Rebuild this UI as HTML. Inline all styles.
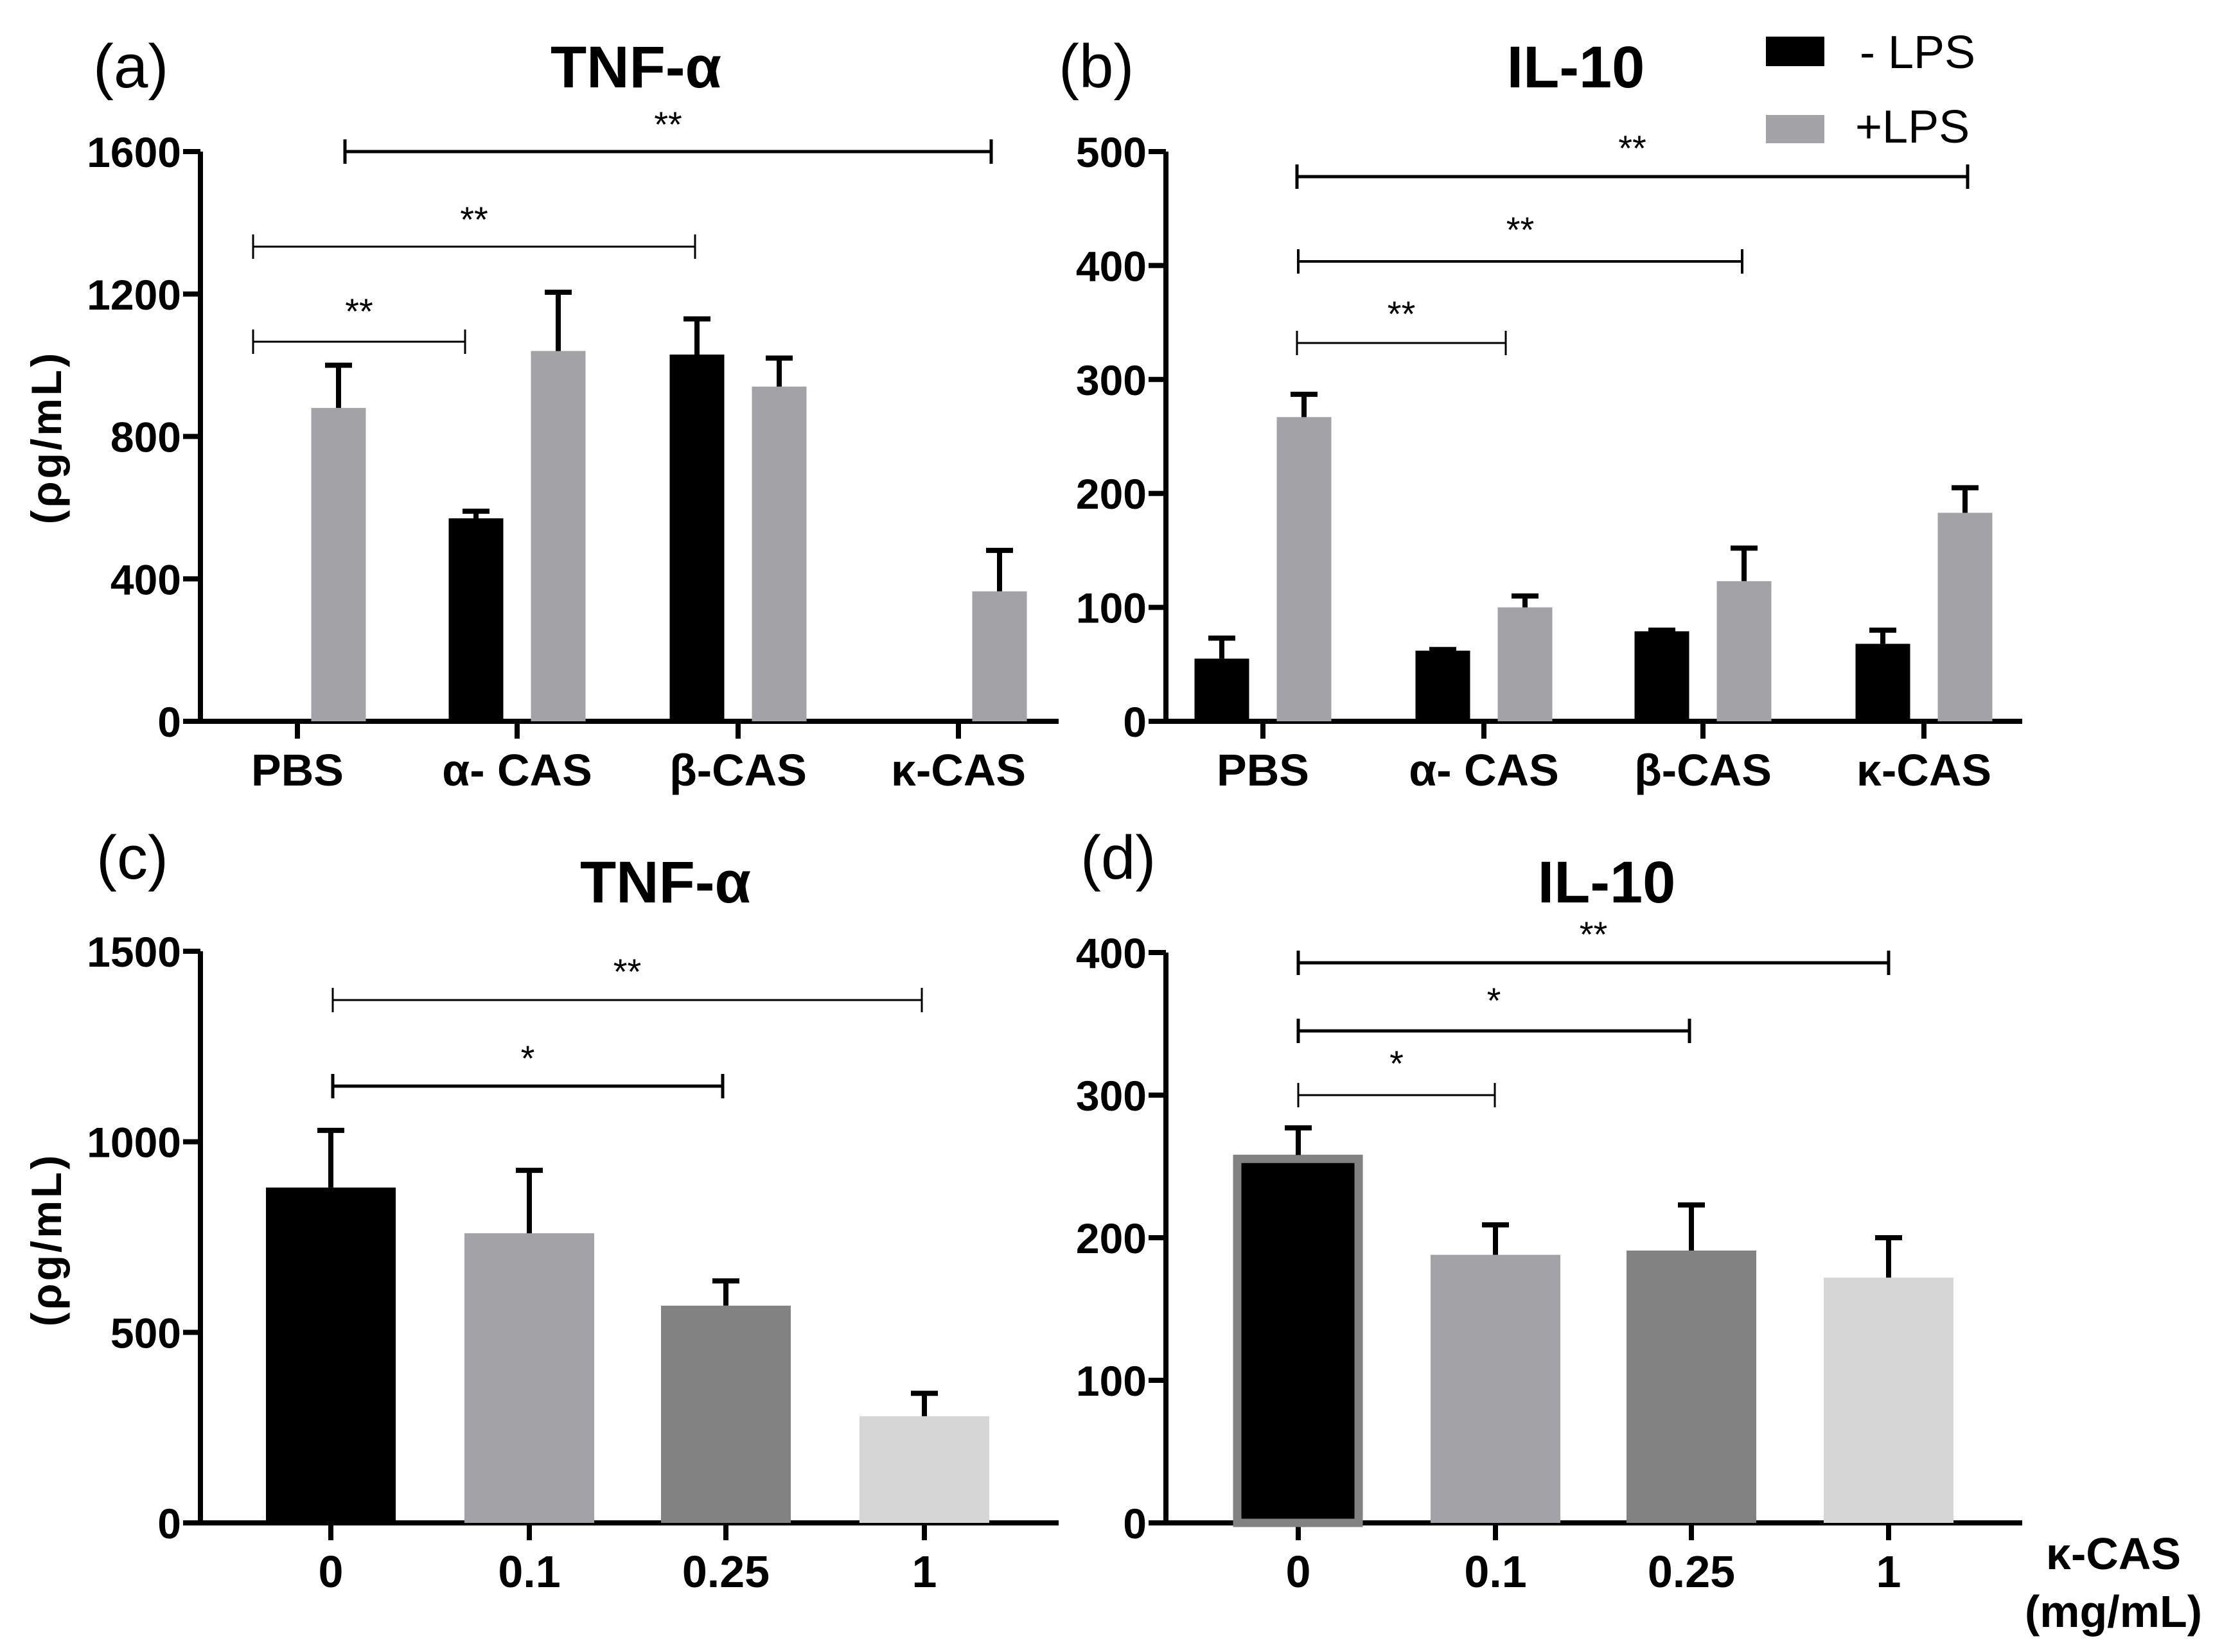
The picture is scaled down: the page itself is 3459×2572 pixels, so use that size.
<!DOCTYPE html>
<html><head><meta charset="utf-8"><style>
html,body{margin:0;padding:0;background:#fff;}
svg{display:block;font-family:"Liberation Sans",Arial,sans-serif;}
.tick{font-size:66px;font-weight:bold;text-anchor:end;}
.xl{font-size:70px;font-weight:bold;text-anchor:middle;}
.ttl{font-size:92px;font-weight:bold;text-anchor:middle;}
.pl{font-size:96px;}
.st{font-size:56px;text-anchor:middle;}
</style></head><body>
<svg id="fig" width="3459" height="2572" viewBox="0 0 3459 2572" xmlns="http://www.w3.org/2000/svg"></svg>
<script>
// Panel (a) TNF-α
const catsAB = ["PBS", "α- CAS", "β-CAS", "κ-CAS"];
const aNoLps = [0, 570, 1030, 0];
const aNoLpsErr = [0, 590, 1130, 0];
const aLps = [880, 1040, 940, 365];
const aLpsErr = [1000, 1205, 1020, 480];
const aTicks = [0, 400, 800, 1200, 1600];
// Panel (b) IL-10
const bNoLps = [55, 62, 79, 68];
const bNoLpsErr = [73, 63, 80, 80];
const bLps = [267, 100, 123, 183];
const bLpsErr = [287, 110, 152, 205];
const bTicks = [0, 100, 200, 300, 400, 500];
// Panel (c) TNF-α dose
const catsCD = ["0", "0.1", "0.25", "1"];
const cVals = [880, 760, 570, 280];
const cErr = [1030, 925, 635, 340];
const cTicks = [0, 500, 1000, 1500];
// Panel (d) IL-10 dose
const dVals = [258, 188, 191, 172];
const dErr = [277, 209, 223, 200];
const dTicks = [0, 100, 200, 300, 400];

const NS = "http://www.w3.org/2000/svg";
const svg = document.getElementById("fig");
function el(tag, attrs, parent, text) {
  const e = document.createElementNS(NS, tag);
  for (const k in attrs) e.setAttribute(k, attrs[k]);
  if (text !== undefined) e.textContent = text;
  (parent || svg).appendChild(e);
  return e;
}
function panel(p) {
  const g = el("g", {});
  
  
  const y = v => p.y0 - (v / p.max) * (p.y0 - p.yTop);
  const xc = i => p.tx[i];
  // axes
  const ax = el("path", {d: `M${p.ax} ${p.yTop} V${p.y0} H${p.axEnd}`, stroke: "#000", "stroke-width": 8, fill: "none"}, g);
  
  
  p.ticks.forEach(t => {
    el("line", {x1: p.ax - 27, x2: p.ax, y1: y(t), y2: y(t), stroke: "#000", "stroke-width": 8}, g);
    const tl = el("text", {x: p.ax - 30, y: y(t) + 24, class: "tick"}, g, t);
    
    
  });
  p.cats.forEach((c, i) => {
    el("line", {x1: xc(i), x2: xc(i), y1: p.y0, y2: p.y0 + 27, stroke: "#000", "stroke-width": 8}, g);
    const xl = el("text", {x: xc(i), y: p.y0 + 100, class: "xl"}, g, c);
    
    
  });
  // bars
  p.series.forEach(s => {
    s.vals.forEach((v, i) => {
      const cx = xc(i) + s.off;
      if (v > 0) {
        const col = Array.isArray(s.color) ? s.color[i] : s.color;
        const r = el("rect", {x: cx - p.bw / 2, y: y(v), width: p.bw, height: p.y0 - y(v), fill: col}, g);
        
        
        if (s.border && s.border[i]) {
          r.setAttribute("stroke", s.border[i]);
          r.setAttribute("stroke-width", 13);
          r.setAttribute("x", cx - p.bw / 2 + 6);
          r.setAttribute("width", p.bw - 13);
          r.setAttribute("y", y(v) + 6);
          r.setAttribute("height", p.y0 - y(v) - 6);
        }
        const e = s.err[i];
        if (e > v) {
          const eb = el("path", {d: `M${cx} ${y(v)} V${y(e)} M${cx - 21} ${y(e)} H${cx + 21}`, stroke: "#000", "stroke-width": 8, fill: "none"}, g);
          
          
        }
      }
    });
  });
  // significance
  p.sig.forEach(s => {
    const sl = el("path", {d: `M${s.x1} ${s.y - 19} V${s.y + 19} M${s.x1} ${s.y} H${s.x2} M${s.x2} ${s.y - 19} V${s.y + 19}`, stroke: "#000", "stroke-width": s.w, fill: "none"}, g);
    
    
    const st = el("text", {x: (s.x1 + s.x2) / 2, y: s.sy + 28, class: "st"}, g, s.t);
    
    
  });
  const t = el("text", {x: p.titleX, y: p.titleY + 33, class: "ttl"}, g, p.title);
  
  
  const l = el("text", {x: p.labX, y: p.labY + 33, class: "pl"}, g, p.lab);
  
  
  if (p.ylab) {
    const yl = el("text", {x: 0, y: 0, transform: `translate(${p.ylabX},${p.ylabY}) rotate(-90)`, "font-size": 66, "font-weight": "bold", "text-anchor": "middle", "letter-spacing": "4"}, g, "(ρg/mL)");
    
    
  }
}
panel({name: "panel-a", ax: 312, axEnd: 1648, y0: 1123, yTop: 236, max: 1600, ticks: aTicks, cats: catsAB,
  tx: [463, 805, 1149, 1492], bw: 85,
  series: [{vals: aNoLps, err: aNoLpsErr, color: "#000", off: -64}, {vals: aLps, err: aLpsErr, color: "#a3a2a7", off: 64}],
  sig: [{x1: 537, x2: 1543, y: 236, sy: 185, t: "**", w: 5}, {x1: 394, x2: 1082, y: 384, sy: 333, t: "**", w: 3}, {x1: 394, x2: 724, y: 532, sy: 476, t: "**", w: 3}],
  title: "TNF-α", titleX: 990, titleY: 103, lab: "(a)", labX: 145, labY: 103, ylab: true, ylabX: 95, ylabY: 681});
panel({name: "panel-b", ax: 1815, axEnd: 3148, y0: 1123, yTop: 236, max: 500, ticks: bTicks, cats: catsAB,
  tx: [1966, 2310, 2651, 2995], bw: 85,
  series: [{vals: bNoLps, err: bNoLpsErr, color: "#000", off: -64}, {vals: bLps, err: bLpsErr, color: "#a3a2a7", off: 64}],
  sig: [{x1: 2019, x2: 3063, y: 275, sy: 222, t: "**", w: 5}, {x1: 2021, x2: 2712, y: 407, sy: 349, t: "**", w: 4}, {x1: 2019, x2: 2344, y: 534, sy: 480, t: "**", w: 3}],
  title: "IL-10", titleX: 2453, titleY: 103, lab: "(b)", labX: 1648, labY: 103, ylab: false});
panel({name: "panel-c", ax: 312, axEnd: 1648, y0: 2371, yTop: 1481, max: 1500, ticks: cTicks, cats: catsCD,
  tx: [515, 824, 1130, 1439], bw: 202,
  series: [{vals: cVals, err: cErr, color: ["#000", "#a3a2a7", "#828282", "#d6d6d6"], off: 0}],
  sig: [{x1: 518, x2: 1435, y: 1557, sy: 1504, t: "**", w: 3}, {x1: 518, x2: 1125, y: 1691, sy: 1639, t: "*", w: 5}],
  title: "TNF-α", titleX: 1036, titleY: 1372, lab: "(c)", labX: 150, labY: 1335, ylab: true, ylabX: 95, ylabY: 1930});
panel({name: "panel-d", ax: 1815, axEnd: 3148, y0: 2371, yTop: 1483, max: 400, ticks: dTicks, cats: catsCD,
  tx: [2021, 2328, 2633, 2940], bw: 202,
  series: [{vals: dVals, err: dErr, color: ["#000", "#a3a2a7", "#828282", "#d6d6d6"], border: ["#828282"], off: 0}],
  sig: [{x1: 2021, x2: 2940, y: 1499, sy: 1446, t: "**", w: 5}, {x1: 2021, x2: 2630, y: 1605, sy: 1549, t: "*", w: 5}, {x1: 2021, x2: 2327, y: 1705, sy: 1647, t: "*", w: 3}],
  title: "IL-10", titleX: 2501, titleY: 1372, lab: "(d)", labX: 1682, labY: 1335, ylab: false});
// legend
const lg = el("g", {});


const lb1 = el("rect", {x: 2749, y: 57, width: 91, height: 46, fill: "#000"}, lg);


const lt1 = el("text", {x: 2895, y: 106, "font-size": 72}, lg, "- LPS");


const lb2 = el("rect", {x: 2749, y: 179, width: 91, height: 44, fill: "#a3a2a7"}, lg);


const lt2 = el("text", {x: 2888, y: 222, "font-size": 72}, lg, "+LPS");


const xt1 = el("text", {x: 3290, y: 2443, "font-size": 70, "font-weight": "bold", "text-anchor": "middle"}, svg, "κ-CAS");


const xt2 = el("text", {x: 3290, y: 2533, "font-size": 70, "font-weight": "bold", "text-anchor": "middle"}, svg, "(mg/mL)");


</script>
</body></html>
